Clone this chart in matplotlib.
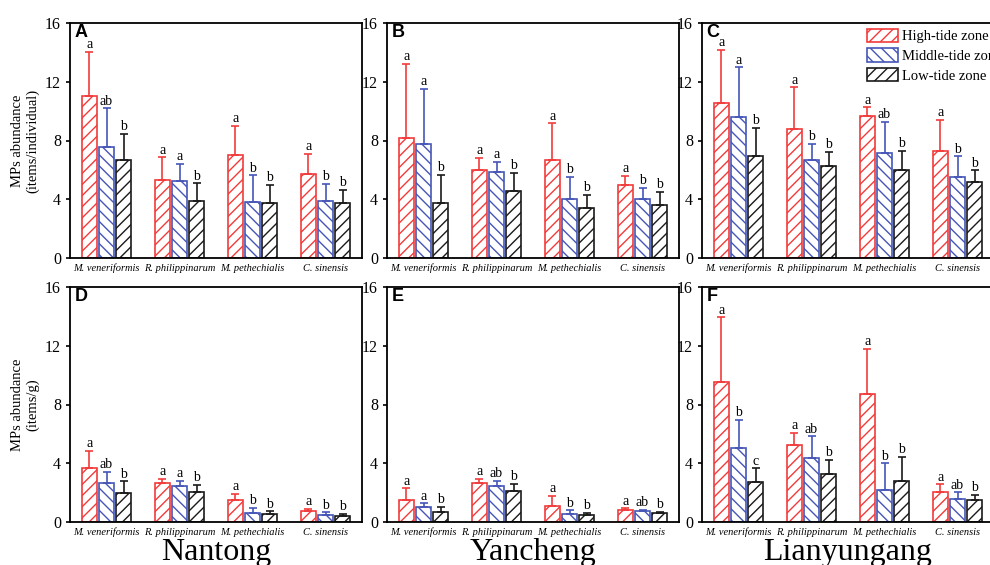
import numpy as np
import matplotlib
matplotlib.use("Agg")
import matplotlib.pyplot as plt

species = ["M. veneriformis", "R. philippinarum", "M. pethechialis", "C. sinensis"]
zones = ["High-tide zone", "Middle-tide zone", "Low-tide zone"]
cities = ["Nantong", "Yancheng", "Lianyungang"]
panel_tags = ["A", "B", "C", "D", "E", "F"]
y_labels = ["MPs abundance\n(items/individual)", "MPs abundance\n(items/g)"]
y_ticks = [0, 4, 8, 12, 16]

# mean per zone (rows: high, middle, low) and standard deviation (upper bar only)
a_mean = [[11.0, 5.32, 7.01, 5.71], [7.56, 5.27, 3.84, 3.86], [6.67, 3.88, 3.74, 3.72]]
a_sd = [[3.04, 1.53, 1.99, 1.37], [2.62, 1.12, 1.78, 1.19], [1.78, 1.21, 1.24, 0.91]]
a_sig = [["a", "a", "a", "a"], ["ab", "a", "b", "b"], ["b", "b", "b", "b"]]

b_mean = [[8.14, 6.01, 6.67, 5.0], [7.73, 5.85, 3.99, 3.99], [3.74, 4.59, 3.39, 3.6]]
b_sd = [[5.09, 0.8, 2.5, 0.57], [3.78, 0.71, 1.51, 0.76], [1.93, 1.19, 0.9, 0.9]]
b_sig = [["a", "a", "a", "a"], ["a", "a", "b", "b"], ["b", "b", "b", "b"]]

c_mean = [[10.55, 8.77, 9.68, 7.31], [9.61, 6.65, 7.18, 5.54], [6.95, 6.24, 5.99, 5.17]]
c_sd = [[3.62, 2.85, 0.57, 2.07], [3.37, 1.14, 2.09, 1.38], [1.89, 0.98, 1.3, 0.8]]
c_sig = [["a", "a", "a", "a"], ["a", "b", "ab", "b"], ["b", "b", "b", "b"]]

d_mean = [[3.65, 2.66, 1.5, 0.75], [2.63, 2.45, 0.64, 0.5], [1.97, 2.07, 0.52, 0.41]]
d_sd = [[1.21, 0.27, 0.4, 0.16], [0.77, 0.34, 0.34, 0.16], [0.8, 0.47, 0.21, 0.12]]
d_sig = [["a", "a", "a", "a"], ["ab", "a", "b", "b"], ["b", "b", "b", "b"]]

e_mean = [[1.49, 2.68, 1.12, 0.8], [0.99, 2.48, 0.57, 0.73], [0.69, 2.09, 0.46, 0.62]]
e_sd = [[0.8, 0.26, 0.65, 0.12], [0.27, 0.34, 0.23, 0.12], [0.34, 0.52, 0.16, 0.09]]
e_sig = [["a", "a", "a", "a"], ["a", "ab", "b", "ab"], ["b", "b", "b", "b"]]

f_mean = [[9.53, 5.26, 8.73, 2.06], [5.03, 4.39, 2.19, 1.55], [2.7, 3.25, 2.77, 1.49]]
f_sd = [[4.41, 0.8, 3.04, 0.5], [1.94, 1.44, 1.81, 0.46], [0.96, 0.98, 1.64, 0.34]]
f_sig = [["a", "a", "a", "a"], ["b", "ab", "b", "ab"], ["c", "b", "b", "b"]]

colors = ["#f23b3b", "#4656b8", "#1a1a1a"]
hatches = ["///", "\\\\\\", "///"]

plt.rcParams["font.family"] = ["Liberation Serif", "DejaVu Serif"]
plt.rcParams["hatch.linewidth"] = 1.0

fig = plt.figure(figsize=(9.9, 5.65), dpi=100)
lefts = [70 / 990, 387 / 990, 702 / 990]
bottoms = [1 - 258 / 565, 1 - 522 / 565]
w, h = 292 / 990, 235 / 565

panels = [(a_mean, a_sd, a_sig), (b_mean, b_sd, b_sig), (c_mean, c_sd, c_sig),
          (d_mean, d_sd, d_sig), (e_mean, e_sd, e_sig), (f_mean, f_sd, f_sig)]

x = np.arange(len(species))
bw = 0.21
step = 0.235

for i, (mean, sd, sig) in enumerate(panels):
    row, col = divmod(i, 3)
    ax = fig.add_axes([lefts[col], bottoms[row], w, h])
    for k in range(3):
        xs = x + (k - 1) * step
        m = np.array(mean[k])
        s = np.array(sd[k])
        ax.bar(xs, m, width=bw, facecolor="white", edgecolor=colors[k],
               hatch=hatches[k], linewidth=1.2, label=zones[k], zorder=2)
        ax.errorbar(xs, m, yerr=[np.zeros_like(s), s], fmt="none", ecolor=colors[k],
                    elinewidth=1.2, capsize=3, capthick=1.2, zorder=3)
        for xi, top, lab in zip(xs, m + s, sig[k]):
            ax.text(xi, top + 0.05, lab, ha="center", va="bottom", fontsize=10)
    ax.set_xlim(-0.5, 3.5)
    ax.set_ylim(0, 16)
    ax.set_yticks(y_ticks)
    ax.tick_params(axis="y", labelsize=11.5, direction="out", length=3, width=1.2)
    ax.set_xticks(x)
    ax.set_xticklabels(species, fontsize=7.5, style="italic")
    ax.tick_params(axis="x", length=0, pad=4)
    for sp in ax.spines.values():
        sp.set_linewidth(1.3)
    ax.text(0.015, 0.995, panel_tags[i], transform=ax.transAxes, ha="left", va="top",
            fontsize=13, fontweight="bold", family=["Liberation Sans", "DejaVu Sans"])
    if col == 0:
        ax.set_ylabel(y_labels[row], fontsize=10.5, labelpad=4)
    if row == 1:
        fig.text(lefts[col] + w / 2, 5 / 565, cities[col], ha="center", va="baseline",
                 fontsize=23)
    if i == 2:
        ax.legend(loc="upper left", bbox_to_anchor=(0.565, 0.975), frameon=False, fontsize=10.5,
                  handlelength=2.1, handleheight=1.0, labelspacing=0.35, handletextpad=0.3,
                  borderaxespad=0.0, borderpad=0.0)

fig.savefig("out.png", dpi=100)
